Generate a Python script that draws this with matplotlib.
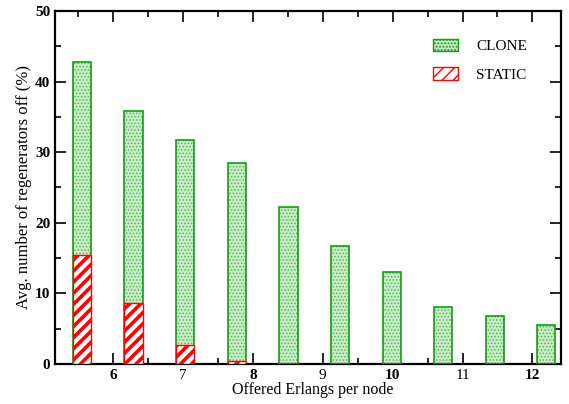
import matplotlib.pyplot as plt
from matplotlib.ticker import MultipleLocator
from matplotlib.patches import Patch

plt.rcParams['font.family'] = ['Liberation Serif', 'DejaVu Serif']

# bar positions on the Erlang axis and the share of regenerators switched off
positions = [5.55, 6.29, 7.03, 7.77, 8.51, 9.25, 9.99, 10.72, 11.46, 12.20]
clone = [42.7, 35.8, 31.7, 28.5, 22.2, 16.7, 13.0, 8.1, 6.8, 5.5]
static = [15.4, 8.6, 2.7, 0.4, 0, 0, 0, 0, 0, 0]

fig = plt.figure(figsize=(5.69, 4.04), dpi=100)
ax = fig.add_axes([0.097, 0.099, 0.889, 0.874])

green = '#1a9a1a'
dots = '#55bb55'
fill = '#c8ecc8'
red = '#ff0000'

with plt.rc_context({'hatch.linewidth': 0.7}):
    ax.bar(positions, clone, width=0.26, facecolor=fill, edgecolor=dots,
           hatch='.....', linewidth=0, zorder=2)
ax.bar(positions, clone, width=0.26, facecolor='none', edgecolor=green,
       linewidth=1.2, zorder=3)
with plt.rc_context({'hatch.linewidth': 2.6}):
    ax.bar(positions, static, width=0.26, facecolor='white', edgecolor=red,
           hatch='///', linewidth=1.0, zorder=4)

ax.set_xlim(5.17, 12.41)
ax.set_ylim(0, 50)
ax.xaxis.set_major_locator(MultipleLocator(1))
ax.xaxis.set_minor_locator(MultipleLocator(0.5))
ax.yaxis.set_major_locator(MultipleLocator(10))
ax.yaxis.set_minor_locator(MultipleLocator(5))
ax.tick_params(which='both', direction='in', top=True, right=True, width=1.2)
ax.tick_params(which='major', length=8, labelsize=11)
ax.tick_params(which='minor', length=4)
for s in ax.spines.values():
    s.set_linewidth(1.6)

for lab in ax.get_yticklabels():
    lab.set_fontweight('bold')
for lab in ax.get_xticklabels():
    if lab.get_text() in ('6', '8', '10', '12'):
        lab.set_fontweight('bold')

ax.set_xlabel('Offered Erlangs per node', fontsize=11.5)
ax.xaxis.set_label_coords(0.51, -0.052, transform=ax.transAxes)
ax.set_ylabel('Avg. number of regenerators off (%)', fontsize=12, labelpad=2)

with plt.rc_context({'hatch.linewidth': 0.7}):
    clone_patch = Patch(facecolor=fill, edgecolor=green, hatch='.....', label='CLONE')
with plt.rc_context({'hatch.linewidth': 2.6}):
    static_patch = Patch(facecolor='white', edgecolor=red, hatch='///', label='STATIC')
ax.legend(handles=[clone_patch, static_patch], loc='upper right',
          bbox_to_anchor=(0.96, 0.96), frameon=False, fontsize=11,
          handlelength=1.6, handleheight=0.9, labelspacing=0.9,
          handletextpad=1.2)

fig.savefig('out.png', dpi=100)
